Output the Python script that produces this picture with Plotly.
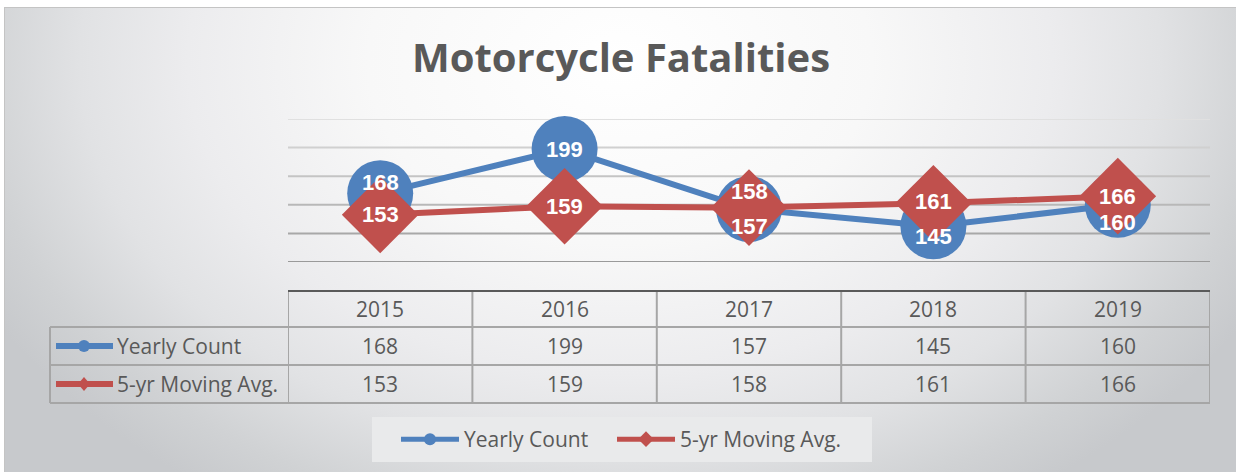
import base64
import plotly.graph_objects as go

# ---------------- data ----------------
years = ["2015", "2016", "2017", "2018", "2019"]
yearly_count = [168, 199, 157, 145, 160]
moving_avg = [153, 159, 158, 161, 166]
series_names = ["Yearly Count", "5-yr Moving Avg."]
title_text = "Motorcycle Fatalities"
y_ticks = [120, 140, 160, 180, 200, 220]

# ---------------- styles ----------------
W, H = 1236, 472
PL, PR, PT, PB = 288, 1210, 119, 262          # plot area in pixels
BLUE, RED = "#4F81BD", "#C0504D"
TXT = "#595959"
grid_colors = ["#9a9a9a", "#a8a8a8", "#b8b8b8", "#c4c4c4", "#d0d0d0", "#e0e0e0"]
yearly_label_dy = [11, 0, -17, -10, -18]
avg_label_dy = [0, 0, 16, 2, 0]
row_px = [291, 327, 365, 403]                 # table row boundaries
table_left_px = 50
legend_left_px = [396, 612]


def px_x(px):
    return (px - PL) / (PR - PL)


def px_y(py):
    return (PB - py) / (PB - PT)


fig = go.Figure()
fig.add_trace(go.Scatter(
    x=years, y=yearly_count, name=series_names[0], mode="lines+markers",
    line=dict(color=BLUE, width=6),
    marker=dict(symbol="circle", size=66, color=BLUE),
    cliponaxis=False, hoverinfo="x+y", legend="legend"))
fig.add_trace(go.Scatter(
    x=years, y=moving_avg, name=series_names[1], mode="lines+markers",
    line=dict(color=RED, width=6),
    marker=dict(symbol="diamond", size=59, color=RED),
    cliponaxis=False, hoverinfo="x+y", legend="legend2"))

# data labels (x given as category index)
label_font = dict(family="Liberation Sans, Arial", size=22, color="white", weight="bold")
for i, (v, dy) in enumerate(zip(yearly_count, yearly_label_dy)):
    fig.add_annotation(x=i, y=v, yshift=dy, text=str(v), showarrow=False,
                       xanchor="center", yanchor="middle", font=label_font)
for i, (v, dy) in enumerate(zip(moving_avg, avg_label_dy)):
    fig.add_annotation(x=i, y=v, yshift=dy, text=str(v), showarrow=False,
                       xanchor="center", yanchor="middle", font=label_font)

# gridlines
for v, c in zip(y_ticks, grid_colors):
    fig.add_shape(type="line", xref="paper", yref="y", x0=0, x1=1, y0=v, y1=v,
                  line=dict(color=c, width=2), layer="below")

# ---------------- data table ----------------
border = "#a6a6a6"
for r in row_px[1:]:
    fig.add_shape(type="line", xref="paper", yref="paper", x0=px_x(table_left_px), x1=1,
                  y0=px_y(r), y1=px_y(r), line=dict(color=border, width=2))
fig.add_shape(type="line", xref="paper", yref="paper", x0=px_x(table_left_px), x1=px_x(table_left_px),
              y0=px_y(row_px[1]), y1=px_y(row_px[3]), line=dict(color=border, width=2))
for i in range(len(years) + 1):
    fig.add_shape(type="line", xref="x", yref="paper", x0=i - 0.5, x1=i - 0.5,
                  y0=px_y(row_px[0]), y1=px_y(row_px[3]), line=dict(color=border, width=2))
# header top (darker)
fig.add_shape(type="line", xref="x", yref="paper", x0=-0.5, x1=len(years) - 0.5,
              y0=px_y(row_px[0]), y1=px_y(row_px[0]), line=dict(color="#5a5a5a", width=2))

cell_font = dict(family="Open Sans", size=21, color=TXT)
row_centers = [(row_px[k] + row_px[k + 1]) / 2 for k in range(3)]
for i, yr in enumerate(years):
    fig.add_annotation(x=i, y=px_y(row_centers[0]), yref="paper", text=yr,
                       showarrow=False, xanchor="center", yanchor="middle", font=cell_font)
for i, v in enumerate(yearly_count):
    fig.add_annotation(x=i, y=px_y(row_centers[1]), yref="paper", text=str(v),
                       showarrow=False, xanchor="center", yanchor="middle", font=cell_font)
for i, v in enumerate(moving_avg):
    fig.add_annotation(x=i, y=px_y(row_centers[2]), yref="paper", text=str(v),
                       showarrow=False, xanchor="center", yanchor="middle", font=cell_font)

# legend keys inside table
for k, (name, col) in enumerate(zip(series_names, [BLUE, RED])):
    cy = row_centers[k + 1]
    fig.add_shape(type="line", xref="paper", yref="paper", x0=px_x(56), x1=px_x(113),
                  y0=px_y(cy), y1=px_y(cy), line=dict(color=col, width=6))
    if k == 0:
        fig.add_shape(type="circle", xref="paper", yref="paper", x0=px_x(78), x1=px_x(90),
                      y0=px_y(cy + 6), y1=px_y(cy - 6), fillcolor=col, line=dict(width=0))
    else:
        path = "M {},{} L {},{} L {},{} L {},{} Z".format(
            px_x(84), px_y(cy - 7), px_x(90), px_y(cy), px_x(84), px_y(cy + 7), px_x(78), px_y(cy))
        fig.add_shape(type="path", xref="paper", yref="paper", path=path,
                      fillcolor=col, line=dict(width=0))
    fig.add_annotation(x=px_x(115), y=px_y(cy), xref="paper", yref="paper", text=name,
                       xanchor="left", yanchor="middle", showarrow=False, font=cell_font)

# legend box
fig.add_shape(type="rect", xref="paper", yref="paper", x0=px_x(372), x1=px_x(872),
              y0=px_y(417), y1=px_y(462), fillcolor="#e9eaeb", line=dict(width=0), layer="below")

# ---------------- background gradient ----------------
svg = (
    "<svg xmlns='http://www.w3.org/2000/svg' width='1232' height='465' viewBox='0 0 1232 465'>"
    "<defs><radialGradient id='g' gradientUnits='userSpaceOnUse' cx='0' cy='0' r='1' "
    "gradientTransform='translate(616,55) scale(720,520)'>"
    "<stop offset='0' stop-color='#ffffff'/>"
    "<stop offset='0.35' stop-color='#f8f8f8'/>"
    "<stop offset='0.6' stop-color='#ececee'/>"
    "<stop offset='0.75' stop-color='#e1e2e4'/>"
    "<stop offset='0.9' stop-color='#d0d2d4'/>"
    "<stop offset='1' stop-color='#c7c9cc'/>"
    "</radialGradient></defs>"
    "<rect x='0' y='0' width='1232' height='465' fill='url(#g)'/>"
    "<rect x='0.5' y='0.5' width='1240' height='470' fill='none' stroke='#c4c4c4' stroke-width='1'/>"
    "</svg>"
)
src = "data:image/svg+xml;base64," + base64.b64encode(svg.encode()).decode()
fig.add_layout_image(source=src, xref="paper", yref="paper",
                     x=px_x(4), y=px_y(7), sizex=1232 / (PR - PL), sizey=465 / (PB - PT),
                     xanchor="left", yanchor="top", sizing="stretch", layer="below")

legend_style = dict(orientation="h", xref="container", yref="container",
                    xanchor="left", y=1 - 439.5 / H, yanchor="middle",
                    bgcolor="rgba(0,0,0,0)", font=dict(family="Open Sans", size=21, color=TXT),
                    itemsizing="constant", itemwidth=58)

fig.update_layout(
    width=W, height=H,
    margin=dict(l=PL, r=W - PR, t=PT, b=H - PB, pad=0),
    paper_bgcolor="white", plot_bgcolor="rgba(0,0,0,0)",
    title=dict(text=title_text, x=621 / W, xref="container", xanchor="center",
               y=1 - 58 / H, yref="container", yanchor="middle",
               font=dict(family="Open Sans", size=40, color=TXT, weight="bold")),
    xaxis=dict(type="category", range=[-0.5, len(years) - 0.5], showticklabels=False,
               showgrid=False, zeroline=False, showline=False, fixedrange=True),
    yaxis=dict(range=[y_ticks[0], y_ticks[-1]], showticklabels=False, showgrid=False,
               zeroline=False, showline=False, fixedrange=True),
    showlegend=True,
    legend=dict(legend_style, x=legend_left_px[0] / W),
    legend2=dict(legend_style, x=legend_left_px[1] / W),
)

fig.write_html("out.html", config={"displayModeBar": False},
               post_script="document.body.style.margin='0';")
